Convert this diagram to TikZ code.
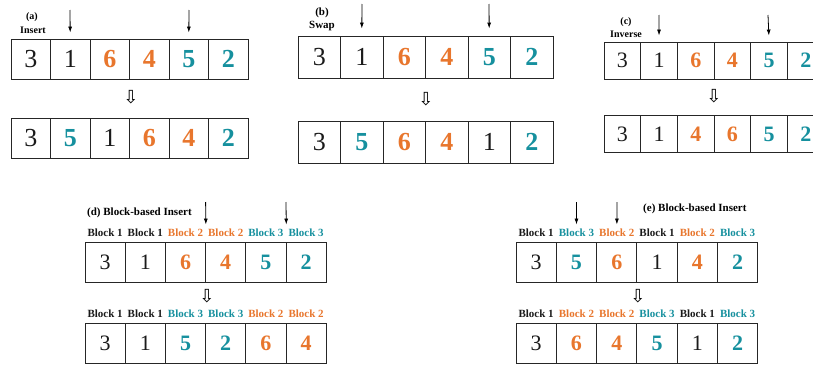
\documentclass[tikz,border=0pt]{standalone}
\usepackage{fontspec}
\setmainfont{Liberation Serif}
\newfontfamily\arrowfont{DejaVu Sans}
\usetikzlibrary{arrows.meta,positioning}
\definecolor{cb1}{HTML}{1A1A1A}
\definecolor{cb2}{HTML}{E8762D}
\definecolor{cb3}{HTML}{16909E}

\tikzset{
  cell/.style={draw=black!85, line width=0.9pt, inner sep=0pt},
  bk1/.style={text=cb1, font=\rmfamily\fontsize{\dsz}{\dsz}\selectfont},
  bk2/.style={text=cb2, font=\rmfamily\fontsize{\dsz}{\dsz}\selectfont\bfseries},
  bk3/.style={text=cb3, font=\rmfamily\fontsize{\dsz}{\dsz}\selectfont\bfseries},
  tag/.style={font=\rmfamily\fontsize{10}{11}\selectfont\bfseries, inner sep=0pt},
  blk/.style={font=\rmfamily\fontsize{11}{12}\selectfont\bfseries, inner sep=0pt},
  down/.style={font=\arrowfont\fontsize{18}{18}\selectfont, inner sep=0pt},
  pick/.style={-{Latex[length=6pt,width=4pt]}, line width=0.8pt},
}

\begin{document}
\begin{tikzpicture}[x=1pt, y=-1pt]
  \clip (0,0) rectangle (813,364);

  % (a) insert
  \def\dsz{26}
  \node[tag] (a-tag) at (32,17) {(a)};
  \node[tag] (a-name) at (33,30) {Insert};
  \foreach \d/\b [count=\i] in {3/1,1/1,6/2,4/2,5/3,2/3}
    \node[cell, bk\b, minimum width=39.5pt, minimum height=40pt] (a1-\i) at ({11+39.5*(\i-.5)},59) {\d};
  \foreach \d/\b [count=\i] in {3/1,5/3,1/1,6/2,4/2,2/3}
    \node[cell, bk\b, minimum width=39.5pt, minimum height=40pt] (a2-\i) at ({11+39.5*(\i-.5)},138) {\d};
  \node[down] (a-to) at (131,97) {⇩};
  \coordinate (a-p1) at (70,10);
  \coordinate (a-p2) at (189,10);
  \draw[pick, shorten >=6pt] (a-p1) -- (a1-2.north);
  \draw[pick, shorten >=6pt] (a-p2) -- (a1-5.north);

  % (b) swap
  \node[tag, font=\rmfamily\fontsize{11}{12}\selectfont\bfseries] (b-tag) at (322,13) {(b)};
  \node[tag, font=\rmfamily\fontsize{11}{12}\selectfont\bfseries] (b-name) at (322,26) {Swap};
  \foreach \d/\b [count=\i] in {3/1,1/1,6/2,4/2,5/3,2/3}
    \node[cell, bk\b, minimum width=42.5pt, minimum height=42pt] (b1-\i) at ({298+42.5*(\i-.5)},57) {\d};
  \foreach \d/\b [count=\i] in {3/1,5/3,6/2,4/2,1/1,2/3}
    \node[cell, bk\b, minimum width=42.5pt, minimum height=42pt] (b2-\i) at ({298+42.5*(\i-.5)},142) {\d};
  \node[down] (b-to) at (426,99) {⇩};
  \coordinate (b-p1) at (362,4);
  \coordinate (b-p2) at (489,4);
  \draw[pick, shorten >=7pt] (b-p1) -- (b1-2.north);
  \draw[pick, shorten >=7pt] (b-p2) -- (b1-5.north);

  % (c) inverse
  \def\dsz{22}
  \node[tag] (c-tag) at (626,22) {(c)};
  \node[tag] (c-name) at (626,34) {Inverse};
  \foreach \d/\b [count=\i] in {3/1,1/1,6/2,4/2,5/3,2/3}
    \node[cell, bk\b, minimum width=36.7pt, minimum height=37pt] (c1-\i) at ({604+36.7*(\i-.5)},60.5) {\d};
  \foreach \d/\b [count=\i] in {3/1,1/1,4/2,6/2,5/3,2/3}
    \node[cell, bk\b, minimum width=36.7pt, minimum height=37pt] (c2-\i) at ({604+36.7*(\i-.5)},134) {\d};
  \node[down] (c-to) at (714,96) {⇩};
  \coordinate (c-p1) at (659,15);
  \coordinate (c-p2) at (768,15);
  \draw[pick, shorten >=6pt] (c-p1) -- (c1-2.north);
  \draw[pick, shorten >=6pt] (c-p2) -- (c1-5.north);

  % (d) block-based insert
  \node[blk, anchor=west] (d-tag) at (87,213) {(d) Block-based Insert};
  \foreach \d/\b [count=\i] in {3/1,1/1,6/2,4/2,5/3,2/3} {
    \node[cell, bk\b, minimum width=40.2pt, minimum height=40pt] (d1-\i) at ({85+40.2*(\i-.5)},262) {\d};
    \node[blk, text=cb\b, above=5pt of d1-\i] (d1-l\i) {Block \b};
  }
  \foreach \d/\b [count=\i] in {3/1,1/1,5/3,2/3,6/2,4/2} {
    \node[cell, bk\b, minimum width=40.2pt, minimum height=40pt] (d2-\i) at ({85+40.2*(\i-.5)},343) {\d};
    \node[blk, text=cb\b, above=5pt of d2-\i] (d2-l\i) {Block \b};
  }
  \node[down] (d-to) at (207,296) {⇩};
  \coordinate (d-p1) at (205.6,202);
  \coordinate (d-p2) at (286,202);
  \draw[pick, shorten >=17pt] (d-p1) -- (d1-3.north east);
  \draw[pick, shorten >=17pt] (d-p2) -- (d1-5.north east);

  % (e) block-based insert
  \node[blk, anchor=west] (e-tag) at (643,209) {(e) Block-based Insert};
  \foreach \d/\b [count=\i] in {3/1,5/3,6/2,1/1,4/2,2/3} {
    \node[cell, bk\b, minimum width=40.3pt, minimum height=40pt] (e1-\i) at ({516+40.3*(\i-.5)},262) {\d};
    \node[blk, text=cb\b, above=5pt of e1-\i] (e1-l\i) {Block \b};
  }
  \foreach \d/\b [count=\i] in {3/1,6/2,4/2,5/3,1/1,2/3} {
    \node[cell, bk\b, minimum width=40.3pt, minimum height=40pt] (e2-\i) at ({516+40.3*(\i-.5)},343) {\d};
    \node[blk, text=cb\b, above=5pt of e2-\i] (e2-l\i) {Block \b};
  }
  \node[down] (e-to) at (638,296) {⇩};
  \coordinate (e-p1) at (576.5,202);
  \coordinate (e-p2) at (617,202);
  \draw[pick, shorten >=17pt] (e-p1) -- (e1-2.north);
  \draw[pick, shorten >=17pt] (e-p2) -- (e1-3.north);
\end{tikzpicture}
\end{document}
